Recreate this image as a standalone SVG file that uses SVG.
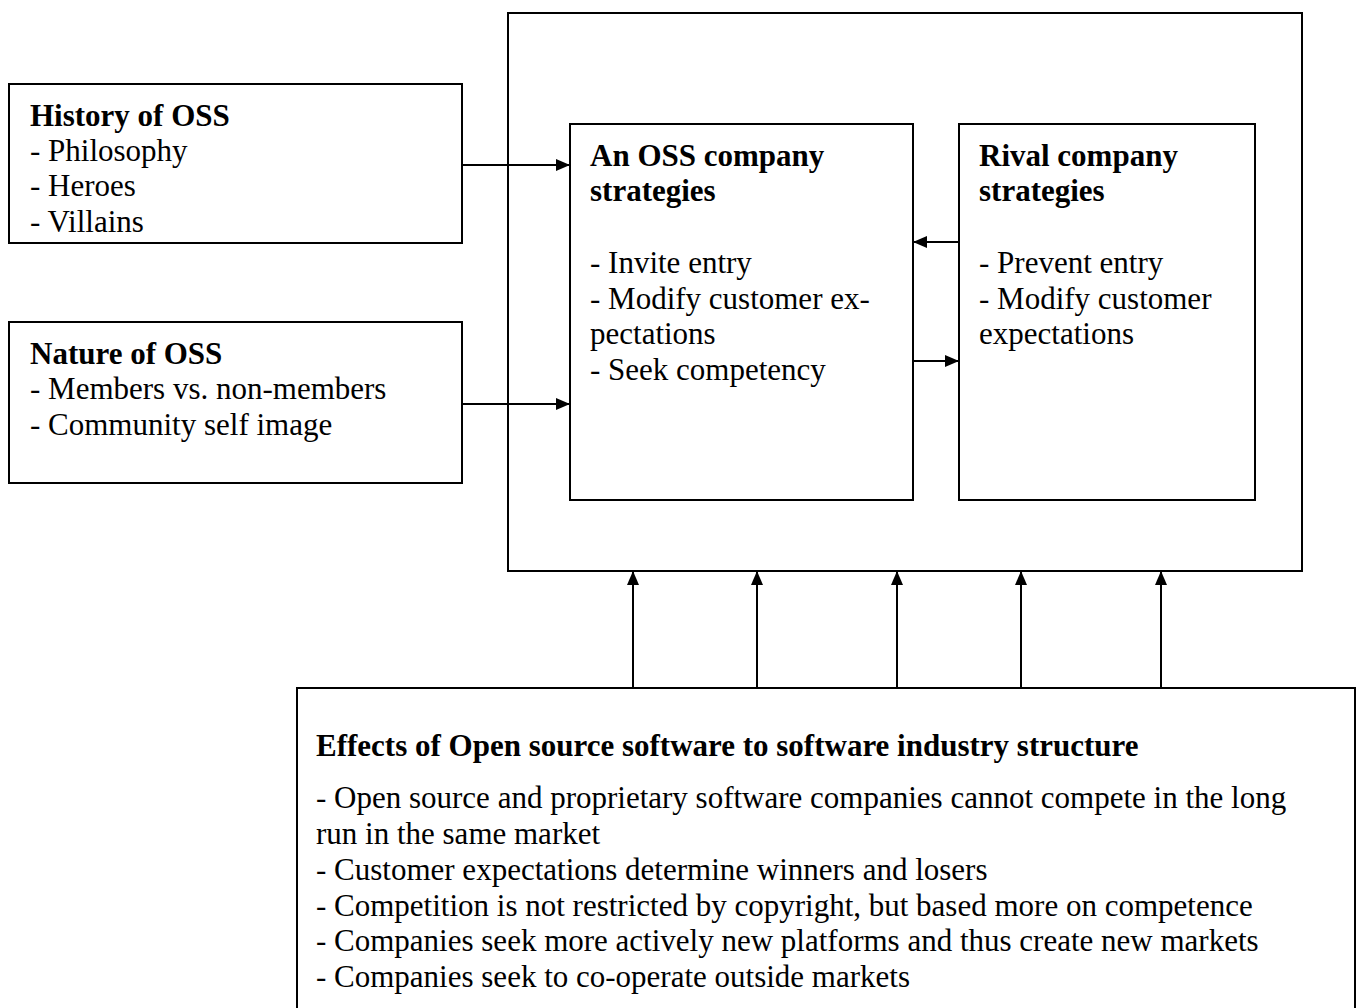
<svg xmlns="http://www.w3.org/2000/svg" width="1359" height="1008" viewBox="0 0 1359 1008">
<style>
rect{fill:#fff;stroke:#000;stroke-width:2}
text{font-family:"Liberation Serif","Times New Roman",serif;font-size:31px;fill:#000}
.b{font-weight:bold}
line{stroke:#000;stroke-width:2}
</style>
<defs>
<marker id="ah" markerWidth="14" markerHeight="12" refX="14" refY="6" orient="auto" markerUnits="userSpaceOnUse">
<path d="M0,0 L14,6 L0,12 Z" fill="#000"/>
</marker>
</defs>
<rect fill="#fff" x="0" y="0" width="1359" height="1008" style="stroke:none"/>
<g id="outer"><rect x="508" y="13" width="794" height="558"/></g>
<g id="history">
<rect x="9" y="84" width="453" height="159"/>
<text x="30" y="126" class="b">History of OSS</text>
<text x="30" y="161">- Philosophy</text>
<text x="30" y="196">- Heroes</text>
<text x="30" y="232">- Villains</text>
</g>
<g id="nature">
<rect x="9" y="322" width="453" height="161"/>
<text x="30" y="364" class="b">Nature of OSS</text>
<text x="30" y="399">- Members vs. non-members</text>
<text x="30" y="435">- Community self image</text>
</g>
<g id="oss">
<rect x="570" y="124" width="343" height="376"/>
<text x="590" y="166" class="b">An OSS company</text>
<text x="590" y="201" class="b">strategies</text>
<text x="590" y="273">- Invite entry</text>
<text x="590" y="309">- Modify customer ex-</text>
<text x="590" y="344">pectations</text>
<text x="590" y="380">- Seek competency</text>
</g>
<g id="rival">
<rect x="959" y="124" width="296" height="376"/>
<text x="979" y="166" class="b">Rival company</text>
<text x="979" y="201" class="b">strategies</text>
<text x="979" y="273">- Prevent entry</text>
<text x="979" y="309">- Modify customer</text>
<text x="979" y="344">expectations</text>
</g>
<g id="effects">
<rect x="297" y="688" width="1058" height="330"/>
<text x="316" y="756" class="b">Effects of Open source software to software industry structure</text>
<text x="316" y="808">- Open source and proprietary software companies cannot compete in the long</text>
<text x="316" y="844">run in the same market</text>
<text x="316" y="880">- Customer expectations determine winners and losers</text>
<text x="316" y="916">- Competition is not restricted by copyright, but based more on competence</text>
<text x="316" y="951">- Companies seek more actively new platforms and thus create new markets</text>
<text x="316" y="987">- Companies seek to co-operate outside markets</text>
</g>
<g id="connectors">
<line x1="462" y1="165" x2="570" y2="165" marker-end="url(#ah)"/>
<line x1="462" y1="404" x2="570" y2="404" marker-end="url(#ah)"/>
<line x1="959" y1="242" x2="913" y2="242" marker-end="url(#ah)"/>
<line x1="913" y1="361" x2="959" y2="361" marker-end="url(#ah)"/>
<line x1="633" y1="688" x2="633" y2="571" marker-end="url(#ah)"/>
<line x1="757" y1="688" x2="757" y2="571" marker-end="url(#ah)"/>
<line x1="897" y1="688" x2="897" y2="571" marker-end="url(#ah)"/>
<line x1="1021" y1="688" x2="1021" y2="571" marker-end="url(#ah)"/>
<line x1="1161" y1="688" x2="1161" y2="571" marker-end="url(#ah)"/>
</g>
</svg>
